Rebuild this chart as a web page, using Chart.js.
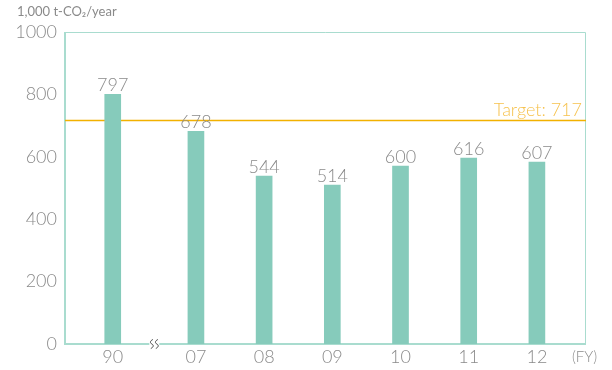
<!DOCTYPE html>
<html>
<head>
<meta charset="utf-8">
<script src="https://cdn.jsdelivr.net/npm/chart.js@4/dist/chart.umd.min.js"></script>
<style>
  html, body { margin: 0; padding: 0; background: #fff; }
  #wrap { width: 612px; height: 370px; }
</style>
</head>
<body>
<div id="wrap"><canvas id="co2Chart"></canvas></div>
<script>
// fiscal years on the x axis (break between 90 and 07)
const years = ['90', '07', '08', '09', '10', '11', '12'];
// numbers printed above the bars
const emissionLabels = [797, 678, 544, 514, 600, 616, 607];
// bar heights as drawn in the picture
const barHeights = [800, 682, 538, 509, 570, 596, 583];
const target = 717;
const yTicks = [0, 200, 400, 600, 800, 1000];

const breakAfter = 0;   // index after which the axis is broken
const breakGap = 0.22;  // extra room for the break mark

const xPos = years.map((y, i) => i + (i > breakAfter ? breakGap : 0));

const grey = '#8a8a8a';
const teal = '#86cbbb';
const frame = '#a9dccf';
const fontFamily = 'Lato, "Open Sans", sans-serif';

// frame + target line, under the bars
const backPlugin = {
  id: 'backPlugin',
  beforeDatasetsDraw(chart) {
    const { ctx, chartArea: a, scales } = chart;
    ctx.save();
    ctx.strokeStyle = frame;
    ctx.lineWidth = 1;
    ctx.beginPath();
    ctx.moveTo(a.left, a.top + 0.5);
    ctx.lineTo(a.right - 0.5, a.top + 0.5);
    ctx.lineTo(a.right - 0.5, a.bottom);
    ctx.stroke();
    ctx.lineWidth = 2;
    ctx.beginPath();
    ctx.moveTo(a.left, a.top);
    ctx.lineTo(a.left, a.bottom);
    ctx.lineTo(a.right, a.bottom);
    ctx.stroke();

    // target line
    const ty = Math.round(scales.y.getPixelForValue(target)) + 0.5;
    ctx.strokeStyle = '#f2b100';
    ctx.lineWidth = 1.5;
    ctx.beginPath();
    ctx.moveTo(a.left, ty);
    ctx.lineTo(a.right, ty);
    ctx.stroke();
    ctx.fillStyle = '#f6c24e';
    ctx.font = '300 18px ' + fontFamily;
    ctx.textAlign = 'right';
    ctx.textBaseline = 'alphabetic';
    ctx.fillText('Target: ' + target, a.right - 4, ty - 5);
    ctx.restore();
  }
};

// value labels, unit text, (FY) and the axis break mark
const frontPlugin = {
  id: 'frontPlugin',
  afterDatasetsDraw(chart) {
    const { ctx, chartArea: a, scales } = chart;
    const meta = chart.getDatasetMeta(0);
    ctx.save();
    ctx.fillStyle = grey;
    ctx.font = '300 18px ' + fontFamily;
    ctx.textAlign = 'center';
    ctx.textBaseline = 'alphabetic';
    meta.data.forEach((bar, i) => {
      ctx.fillText(String(emissionLabels[i]), bar.x, bar.y - 3);
    });

    ctx.font = '400 13px ' + fontFamily;
    ctx.textAlign = 'left';
    ctx.textBaseline = 'middle';
    ctx.fillText('1,000 t-CO\u2082/year', 17, 12);

    ctx.font = '300 15px ' + fontFamily;
    ctx.fillText('(FY)', a.right - 14, 357);

    // break mark
    const bx = scales.x.getPixelForValue((xPos[breakAfter] + xPos[breakAfter + 1]) / 2);
    const by = a.bottom;
    ctx.fillStyle = '#fff';
    ctx.fillRect(bx - 5, by - 2, 10, 4);
    ctx.strokeStyle = '#444';
    ctx.lineWidth = 1;
    [-2.5, 2.5].forEach(dx => {
      const x0 = bx + dx;
      ctx.beginPath();
      ctx.moveTo(x0 + 1, by - 4.5);
      ctx.bezierCurveTo(x0 - 2, by - 3, x0 - 2, by - 1, x0, by);
      ctx.bezierCurveTo(x0 + 2, by + 1, x0 + 2, by + 3, x0 - 1, by + 4.5);
      ctx.stroke();
    });
    ctx.restore();
  }
};

const config = {
  type: 'bar',
  data: {
    datasets: [{
      label: 'CO2 emissions',
      data: xPos.map((x, i) => ({ x: x, y: barHeights[i] })),
      backgroundColor: teal,
      borderWidth: 0,
      barThickness: 16
    }]
  },
  options: {
    responsive: true,
    maintainAspectRatio: false,
    animation: false,
    layout: { padding: { top: 32, right: 26, left: 0, bottom: 0 } },
    plugins: {
      legend: { display: false },
      tooltip: { enabled: false }
    },
    scales: {
      x: {
        type: 'linear',
        min: -0.70,
        max: xPos[xPos.length - 1] + 0.72,
        offset: false,
        grid: { display: false, drawTicks: false },
        border: { display: false },
        afterBuildTicks: scale => {
          scale.ticks = xPos.map(v => ({ value: v }));
        },
        afterFit: scale => { scale.height = 26; },
        ticks: {
          padding: 2,
          color: grey,
          font: { family: fontFamily, size: 18, weight: 300 },
          maxRotation: 0,
          autoSkip: false,
          callback: (value, index) => years[index]
        }
      },
      y: {
        min: 0,
        max: 1000,
        grid: { display: false, drawTicks: false },
        border: { display: false },
        afterBuildTicks: scale => {
          scale.ticks = yTicks.map(v => ({ value: v }));
        },
        afterFit: scale => { scale.width = 65; },
        ticks: {
          padding: 8,
          color: grey,
          font: { family: fontFamily, size: 18, weight: 300 },
          callback: value => String(value)
        }
      }
    }
  },
  plugins: [backPlugin, frontPlugin]
};

document.addEventListener('DOMContentLoaded', function() {
  const ctx = document.getElementById('co2Chart').getContext('2d');
  new Chart(ctx, config);
});
</script>
</body>
</html>
